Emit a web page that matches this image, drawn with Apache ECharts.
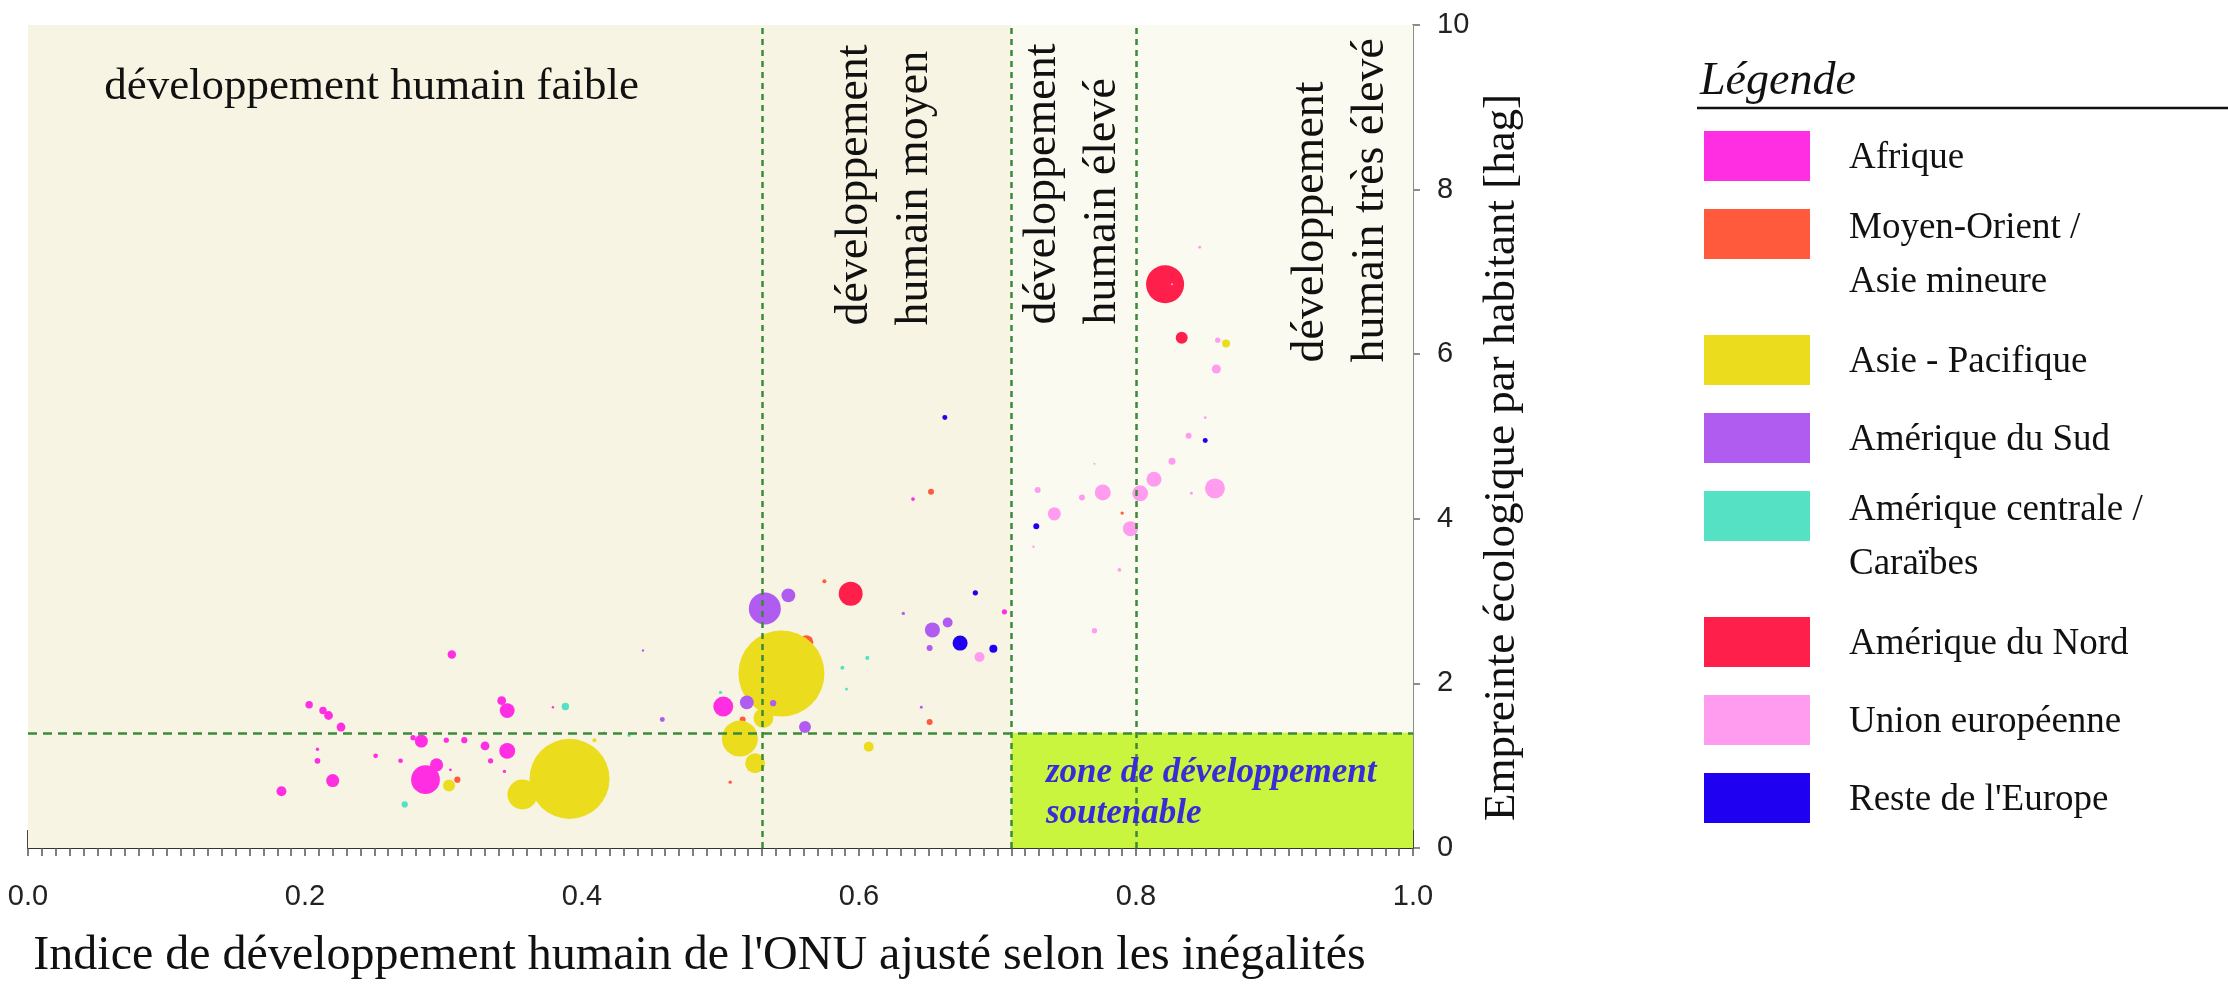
<!DOCTYPE html>
<html><head><meta charset="utf-8">
<script src="https://cdn.jsdelivr.net/npm/echarts@6/dist/echarts.min.js"></script>
<style>html,body{margin:0;padding:0;background:#fff;}#c{width:2228px;height:985px;}</style>
</head><body><div id="c"></div>
<script>
// ---- data: [IDH ajusté, empreinte (hag), population (millions, estimée)] ----
const regionNames = ['Afrique', 'Moyen-Orient /\nAsie mineure', 'Asie - Pacifique', 'Amérique du Sud',
  'Amérique centrale /\nCaraïbes', 'Amérique du Nord', 'Union européenne', "Reste de l'Europe"];
const regionColors = ['#ff2ee3', '#ff5a3c', '#ebdc1e', '#b05cf0', '#55e2c4', '#ff1f4b', '#ff9cf0', '#2000f0'];

const afrique = [[0.306,2.35,13],[0.203,1.74,10],[0.213,1.67,10],[0.217,1.61,14],[0.226,1.47,14],
  [0.342,1.79,14],[0.346,1.67,40],[0.379,1.71,1],[0.502,1.72,72],[0.284,1.30,31],[0.278,1.34,5],
  [0.302,1.31,5],[0.315,1.31,7],[0.330,1.24,14],[0.346,1.18,46],[0.334,1.06,5],[0.344,0.93,2],
  [0.209,1.20,2],[0.209,1.06,6],[0.220,0.82,31],[0.183,0.69,18],[0.251,1.12,4],[0.269,1.06,4],
  [0.287,0.83,150],[0.295,1.01,31],[0.305,0.95,1.5],[0.639,4.24,2.5],[0.705,2.87,5],[0.416,1.40,0.8]];
const moyenOrient = [[0.310,0.83,7],[0.516,1.56,6.5],[0.507,0.80,2],[0.575,3.24,2.9],[0.652,4.33,6.5],
  [0.568,1.82,1.5],[0.651,1.53,6.5],[0.562,2.50,35],[0.790,4.07,2]];
const asiePacifique = [[0.391,0.84,1160],[0.357,0.65,163],[0.544,2.12,1340],[0.514,1.33,235],
  [0.531,1.58,72],[0.525,1.03,72],[0.304,0.76,26],[0.409,1.31,3],[0.607,1.23,18],[0.865,6.13,11.6]];
const ameriqueSud = [[0.532,2.91,186],[0.549,3.07,35],[0.519,1.77,35],[0.538,1.76,7],[0.458,1.56,4.5],
  [0.561,1.47,26],[0.653,2.65,41],[0.664,2.74,18],[0.651,2.43,6.5],[0.632,2.85,2],[0.645,1.71,1.5],[0.444,2.40,1]];
const ameriqueCentrale = [[0.388,1.72,10],[0.272,0.53,7],[0.500,1.89,2],[0.606,2.31,3],[0.588,2.19,3],
  [0.591,1.93,1.5],[0.434,1.37,2]];
const ameriqueNord = [[0.821,6.85,262],[0.833,6.20,26],[0.594,3.09,104]];
const unionEuropeenne = [[0.846,7.30,1.5],[0.826,6.85,0.8],[0.859,6.17,5],[0.858,5.82,15],[0.850,5.23,1.5],
  [0.838,5.01,6.5],[0.826,4.70,9],[0.813,4.48,41],[0.803,4.31,46],[0.857,4.37,72],[0.840,4.31,1.5],
  [0.776,4.32,46],[0.761,4.26,6.5],[0.729,4.35,6.5],[0.741,4.06,31],[0.726,3.66,1],[0.796,3.88,41],
  [0.770,4.67,0.7],[0.788,3.38,2.5],[0.770,2.64,5],[0.687,2.32,18]];
const resteEurope = [[0.662,5.23,4.5],[0.728,3.91,6.5],[0.850,4.95,4.5],[0.684,3.10,5],[0.673,2.49,41],[0.697,2.42,11.6]];
const regionData = [afrique, moyenOrient, asiePacifique, ameriqueSud, ameriqueCentrale, ameriqueNord, unionEuropeenne, resteEurope];

// thresholds
const idhThresholds = [0.53, 0.71, 0.80];
const footprintLimit = 1.4;
const xTicks = ['0.0','0.2','0.4','0.6','0.8','1.0'];
const zoneLabels = [
  {text: 'développement humain faible', at: [0.055, 9.24], rotate: false},
  {text: 'développement\nhumain moyen', at: [0.619, 6.35], rotate: true},
  {text: 'développement\nhumain élevé', at: [0.7545, 6.36], rotate: true},
  {text: 'développement\nhumain très élevé', at: [0.9477, 5.90], rotate: true}
];

const serif = '"Liberation Serif", "DejaVu Serif", serif';
const sans = '"Liberation Sans", Arial, sans-serif';
const chart = echarts.init(document.getElementById('c'));

const series = [];
series.push({
  type: 'scatter', data: [], z: 1, silent: true,
  markArea: { silent: true, itemStyle: {opacity: 1}, data: [
    [{coord: [0, 0], itemStyle: {color: '#f8f4e3'}}, {coord: [idhThresholds[1], 10]}],
    [{coord: [idhThresholds[1], 0], itemStyle: {color: '#fbfaf0'}}, {coord: [1, 10]}],
    [{coord: [idhThresholds[1], 0], itemStyle: {color: '#c9f53f'}}, {coord: [1, footprintLimit]}]
  ]}
});
regionData.forEach((d, i) => {
  series.push({
    name: regionNames[i], type: 'scatter', data: d, z: 2,
    symbolSize: v => Math.max(1.8, 86 * Math.sqrt(v[2] / 1340)),
    itemStyle: {color: regionColors[i], opacity: 1, borderWidth: 0}
  });
});
series.push({
  type: 'scatter', data: [], z: 3, silent: true,
  markLine: { silent: true, symbol: 'none', label: {show: false},
    lineStyle: {color: '#3a8a3a', width: 2.5, type: [6, 5]},
    data: idhThresholds.map(t => [{coord: [t, 0]}, {coord: [t, 10]}]).concat([
      [{coord: [0, footprintLimit], lineStyle: {type: [9, 6]}}, {coord: [1, footprintLimit]}]
    ])
  }
});

chart.setOption({
  animation: false,
  backgroundColor: '#ffffff',
  grid: {left: 28, top: 25, width: 1385, height: 831},
  xAxis: [{
    type: 'value', min: 0, max: 1, interval: 0.1, position: 'bottom',
    axisLine: {show: true, onZero: false, lineStyle: {color: '#333', width: 2}},
    axisTick: {show: true, inside: true, length: 18, lineStyle: {color: '#444', width: 2}},
    axisLabel: {fontFamily: sans, fontSize: 29, color: '#222', margin: 34,
      formatter: v => { const k = Math.round(v * 10); return k % 2 === 0 ? xTicks[k / 2] : ''; }},
    splitLine: {show: false},
    name: "Indice de développement humain de l'ONU ajusté selon les inégalités",
    nameLocation: 'middle', nameGap: 84,
    nameTextStyle: {fontFamily: serif, fontSize: 48, color: '#111', padding: [0, 42, 0, 0]}
  }, {
    type: 'value', min: 0, max: 1, interval: 0.01, position: 'bottom',
    axisLine: {show: false}, axisLabel: {show: false}, splitLine: {show: false},
    axisTick: {show: true, inside: false, length: 8, lineStyle: {color: '#555', width: 1.5}}
  }],
  yAxis: {
    type: 'value', min: 0, max: 10, interval: 2, position: 'right',
    axisLine: {show: true, onZero: false, lineStyle: {color: '#8c8c8c', width: 2}},
    axisTick: {show: true, inside: false, length: 7, lineStyle: {color: '#8c8c8c', width: 2}},
    axisLabel: {fontFamily: sans, fontSize: 29, color: '#222', margin: 24},
    splitLine: {show: false},
    name: 'Empreinte écologique par habitant [hag]',
    nameLocation: 'middle', nameRotate: 90, nameGap: 62,
    nameTextStyle: {fontFamily: serif, fontSize: 45, color: '#111', padding: [0, 42, 0, 0]}
  },
  series: series
});

// annotations anchored on data coordinates
const graphics = [];
zoneLabels.forEach(z => {
  const p = chart.convertToPixel({gridIndex: 0}, z.at);
  graphics.push({type: 'text', x: p[0], y: p[1], rotation: z.rotate ? Math.PI / 2 : 0, z: 10,
    style: {text: z.text, fontFamily: serif, fontSize: z.rotate ? 46 : 45, lineHeight: 60, fill: '#111',
      align: 'left', verticalAlign: 'middle'}});
});
const zp = chart.convertToPixel({gridIndex: 0}, [0.735, 0.66]);
graphics.push({type: 'text', x: zp[0], y: zp[1], z: 10,
  style: {text: 'zone de développement\nsoutenable', fontFamily: serif, fontSize: 35, fontStyle: 'italic',
    fontWeight: 'bold', lineHeight: 41, fill: '#3a2bd6', align: 'left', verticalAlign: 'middle'}});

// legend (drawn from regionNames / regionColors)
graphics.push({type: 'text', x: 1700, y: 82, z: 10,
  style: {text: 'Légende', fontFamily: serif, fontSize: 46, fontStyle: 'italic', fill: '#111', align: 'left', verticalAlign: 'middle'}});
graphics.push({type: 'line', z: 10, shape: {x1: 1697, y1: 108, x2: 2228, y2: 108}, style: {stroke: '#111', lineWidth: 2.5}});
let legTop = 131;
regionNames.forEach((n, i) => {
  const two = n.indexOf('\n') >= 0;
  graphics.push({type: 'rect', z: 10, shape: {x: 1704, y: legTop, width: 106, height: 50}, style: {fill: regionColors[i]}});
  graphics.push({type: 'text', z: 10, x: 1849, y: two ? legTop - 8 : legTop + 27,
    style: {text: n, fontFamily: serif, fontSize: 37, lineHeight: 54, fill: '#111', align: 'left',
      verticalAlign: two ? 'top' : 'middle'}});
  legTop += two ? 126 : 78;
});
chart.setOption({graphic: graphics});
</script></body></html>
